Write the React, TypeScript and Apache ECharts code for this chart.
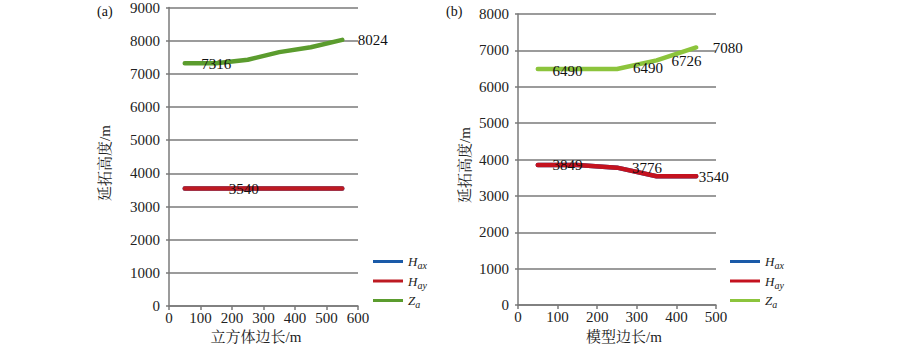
import React, { useEffect, useRef } from "react";
import * as echarts from "echarts";

// Panel (a): cube side length
const xA = [50, 150, 250, 350, 450, 550];
const haxA = [3540, 3540, 3540, 3540, 3540, 3540];
const hayA = [3540, 3540, 3540, 3540, 3540, 3540];
const zaA = [7316, 7316, 7426, 7654, 7803, 8024];

// Panel (b): model side length
const xB = [50, 150, 250, 350, 450];
const haxB = [3849, 3849, 3776, 3540, 3540];
const hayB = [3849, 3849, 3776, 3540, 3540];
const zaB = [6490, 6490, 6490, 6726, 7080];

const seriesNames = ["Hax", "Hay", "Za"];
const yTitle = "延拓高度/m";
const xTitleA = "立方体边长/m";
const xTitleB = "模型边长/m";

const SERIF = "'Liberation Serif', 'Times New Roman', 'Noto Serif CJK SC', 'Noto Sans CJK SC', serif";

type LabelSpec = { [idx: number]: { position: string; offset: number[] } };

function buildData(xs: number[], ys: number[], labels: LabelSpec) {
  return xs.map((x, i) => {
    const l = labels[i];
    if (!l) return { value: [x, ys[i]] };
    return {
      value: [x, ys[i]],
      label: {
        show: true,
        position: l.position,
        offset: l.offset,
        color: "#111",
        fontFamily: SERIF,
        fontSize: 15,
      },
    };
  });
}

function makeOption(cfg: {
  offsetX: number;
  gridLeft: number;
  gridRight: number;
  gridTop: number;
  gridBottom: number;
  xMax: number;
  yMax: number;
  xs: number[];
  hax: number[];
  hay: number[];
  za: number[];
  colors: string[];
  labels: LabelSpec[];
  legendLeft: number;
  panel: string;
  panelX: number;
  yTitleX: number;
  yTitleY: number;
  xTitle: string;
  xTitleX: number;
  width: number;
}) {
  const o = cfg.offsetX;
  const subs: Record<string, string> = {
    Hax: "{i|H}{s|ax}",
    Hay: "{i|H}{s|ay}",
    Za: "{i|Z}{s|a}",
  };
  const values = [cfg.hax, cfg.hay, cfg.za];
  return {
    animation: false,
    grid: {
      left: cfg.gridLeft - o,
      right: cfg.width - (cfg.gridRight - o),
      top: cfg.gridTop,
      bottom: 350 - cfg.gridBottom,
      containLabel: false,
    },
    xAxis: {
      type: "value",
      min: 0,
      max: cfg.xMax,
      interval: 100,
      axisLine: { show: true, lineStyle: { color: "#7a7a7a", width: 1.5 } },
      axisTick: { show: true, length: 4, lineStyle: { color: "#7a7a7a", width: 1.5 } },
      axisLabel: { color: "#222", fontFamily: SERIF, fontSize: 15, margin: 4, formatter: (v: number) => String(v) },
      splitLine: { show: false },
    },
    yAxis: {
      type: "value",
      min: 0,
      max: cfg.yMax,
      interval: 1000,
      axisLine: { show: true, lineStyle: { color: "#7a7a7a", width: 1.5 } },
      axisTick: { show: true, length: 3, lineStyle: { color: "#7a7a7a", width: 1.5 } },
      axisLabel: { color: "#222", fontFamily: SERIF, fontSize: 15, margin: 9, formatter: (v: number) => String(v) },
      splitLine: { show: true, lineStyle: { color: "#7a7a7a", width: 1.5 } },
    },
    legend: {
      orient: "vertical",
      left: cfg.legendLeft - o,
      top: 250,
      itemWidth: 30,
      itemHeight: 3,
      itemGap: 4,
      icon: "rect",
      data: seriesNames,
      formatter: (n: string) => subs[n],
      textStyle: {
        rich: {
          i: { fontFamily: SERIF, fontStyle: "italic", fontSize: 13, color: "#222", lineHeight: 18 },
          s: { fontFamily: SERIF, fontStyle: "italic", fontSize: 10, color: "#222", lineHeight: 18, verticalAlign: "bottom", padding: [5, 0, 0, 0] },
        },
      },
    },
    graphic: [
      { type: "text", x: cfg.panelX - o, y: 11, style: { text: cfg.panel, font: `14px ${SERIF}`, fill: "#111", verticalAlign: "middle" } },
      {
        type: "text",
        x: cfg.yTitleX - o,
        y: cfg.yTitleY,
        rotation: Math.PI / 2,
        style: { text: yTitle, font: `15px ${SERIF}`, fill: "#222", align: "center", verticalAlign: "middle" },
      },
      {
        type: "text",
        x: cfg.xTitleX - o,
        y: 337,
        style: { text: cfg.xTitle, font: `15px ${SERIF}`, fill: "#222", align: "center", verticalAlign: "middle" },
      },
    ],
    series: seriesNames.map((name, k) => ({
      name,
      type: "line",
      showSymbol: true,
      symbol: "circle",
      symbolSize: 1,
      itemStyle: { color: cfg.colors[k] },
      lineStyle: { color: cfg.colors[k], width: 4.5, cap: "round" },
      emphasis: { disabled: true },
      data: buildData(cfg.xs, values[k], cfg.labels[k]),
      z: 2 + k,
    })),
  };
}

export default function App() {
  const refA = useRef<HTMLDivElement>(null);
  const refB = useRef<HTMLDivElement>(null);

  useEffect(() => {
    const a = echarts.init(refA.current!, undefined, { renderer: "svg" });
    const b = echarts.init(refB.current!, undefined, { renderer: "svg" });
    a.setOption(
      makeOption({
        offsetX: 0,
        width: 440,
        gridLeft: 169,
        gridRight: 358,
        gridTop: 3,
        gridBottom: 306,
        xMax: 600,
        yMax: 9000,
        xs: xA,
        hax: haxA,
        hay: hayA,
        za: zaA,
        colors: ["#1a5aa8", "#bd1a22", "#5b9c2e"],
        labels: [
          {},
          { 2: { position: "inside", offset: [-4, 0] } },
          { 1: { position: "inside", offset: [0, 1] }, 5: { position: "right", offset: [10, 0] } },
        ],
        legendLeft: 368,
        panel: "(a)",
        panelX: 97,
        yTitleX: 105,
        yTitleY: 163,
        xTitle: xTitleA,
        xTitleX: 256,
      }) as any
    );
    b.setOption(
      makeOption({
        offsetX: 440,
        width: 460,
        gridLeft: 518,
        gridRight: 716,
        gridTop: 14,
        gridBottom: 305,
        xMax: 500,
        yMax: 8000,
        xs: xB,
        hax: haxB,
        hay: hayB,
        za: zaB,
        colors: ["#1a5aa8", "#c4121f", "#8cc43c"],
        labels: [
          {},
          {
            1: { position: "inside", offset: [-10, 0] },
            2: { position: "inside", offset: [30, 0] },
            4: { position: "right", offset: [-3, 1] },
          },
          {
            1: { position: "inside", offset: [-10, 2] },
            2: { position: "inside", offset: [31, -1] },
            3: { position: "inside", offset: [30, 1] },
            4: { position: "right", offset: [11, 1] },
          },
        ],
        legendLeft: 725,
        panel: "(b)",
        panelX: 446,
        yTitleX: 465,
        yTitleY: 165,
        xTitle: xTitleB,
        xTitleX: 624,
      }) as any
    );
    return () => {
      a.dispose();
      b.dispose();
    };
  }, []);

  return (
    <div style={{ position: "fixed", left: 0, top: 0, width: 900, height: 350, background: "#fff" }}>
      <div ref={refA} style={{ position: "absolute", left: 0, top: 0, width: 440, height: 350 }} />
      <div ref={refB} style={{ position: "absolute", left: 440, top: 0, width: 460, height: 350 }} />
    </div>
  );
}
